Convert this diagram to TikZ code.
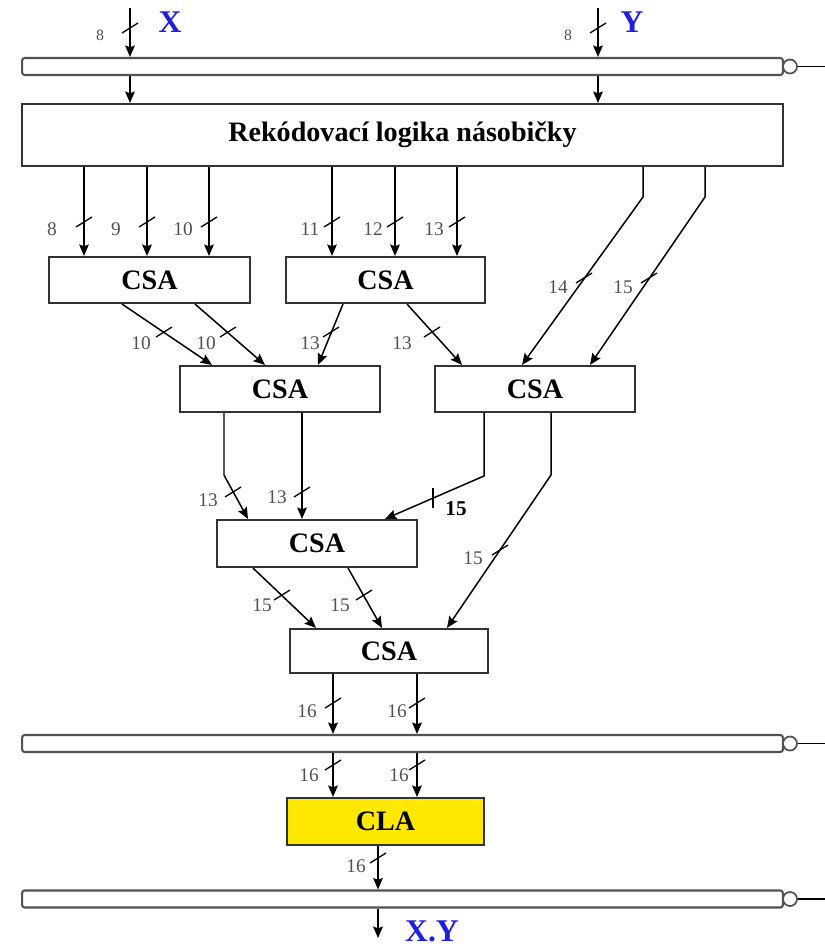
\documentclass[tikz,border=0pt]{standalone}
\usepackage{fontspec}
\setmainfont{Liberation Serif}
\usepackage{xcolor}
\usetikzlibrary{arrows.meta}

\definecolor{boxline}{HTML}{333333}
\definecolor{ioblue}{HTML}{1F1FE0}
\definecolor{lblgray}{HTML}{505050}
\definecolor{clayellow}{HTML}{FFE800}

% sirka sbernice: znacka + popisek
\newcommand{\wmark}[6]{%
  \draw[wtick] (#2,#3) ++(-8,5) -- ++(16,-10);
  \node[wlbl] (#1) at (#4,#5) {#6};
}

\begin{document}
\begin{tikzpicture}[x=0.02cm, y=-0.02cm,
  box/.style={draw=boxline, line width=1.2pt, minimum width=4cm, minimum height=0.92cm,
              font=\fontsize{16}{18}\selectfont\bfseries, fill=white, inner sep=0pt},
  reg/.style={draw=boxline!85, line width=1.2pt, rounded corners=1.5pt, minimum width=15.22cm,
              minimum height=0.34cm, inner sep=0pt, fill=white},
  bubble/.style={circle, draw=boxline!85, line width=1pt, minimum size=0.28cm, inner sep=0pt, fill=white},
  arr/.style={-{Stealth[length=6.5pt, width=5.5pt, inset=1pt]}, line width=0.85pt},
  wire/.style={line width=0.85pt},
  wtick/.style={line width=0.75pt},
  wlbl/.style={font=\fontsize{11}{12}\selectfont, text=lblgray, inner sep=0pt},
  io/.style={font=\fontsize{18}{20}\selectfont\bfseries, text=ioblue, inner sep=0pt},
]
  \useasboundingbox (0,0) rectangle (825,947);

  % Vstupy X, Y a vstupni registr
  \coordinate (xin) at (130,8);
  \coordinate (yin) at (598,8);
  \node[io] (xlab) at (170,22) {X};
  \node[io] (ylab) at (632,22) {Y};
  \node[reg] (regin) at (402.5,66.5) {};
  \node[bubble] (bin) at (790,66.5) {};
  \coordinate (clkin) at (825,66.5);
  \draw[wire] (bin.east) -- (clkin);
  \draw[arr] (xin) -- (xin |- regin.north);
  \draw[arr] (yin) -- (yin |- regin.north);
  \node[wlbl, font=\fontsize{9}{10}\selectfont] (wx) at (100,35) {8};
  \node[wlbl, font=\fontsize{9}{10}\selectfont] (wy) at (568,35) {8};
  \draw[wtick] (130,28) ++(-8,5) -- ++(16,-10);
  \draw[wtick] (598,28) ++(-8,5) -- ++(16,-10);

  % Rekodovaci logika
  \node[box, minimum width=15.22cm, minimum height=1.24cm] (rek) at (402.5,135) {Rekódovací logika násobičky};
  \draw[arr] (xin |- regin.south) -- (xin |- rek.north);
  \draw[arr] (yin |- regin.south) -- (yin |- rek.north);

  % CSA strom
  \node[box, minimum width=4.02cm] (csa1) at (149.5,280) {CSA};
  \node[box, minimum width=3.98cm] (csa2) at (385.5,280) {CSA};
  \node[box] (csa3) at (280,389) {CSA};
  \node[box] (csa4) at (535,389) {CSA};
  \node[box, minimum height=0.94cm] (csa5) at (317,543.5) {CSA};
  \node[box, minimum width=3.96cm, minimum height=0.88cm] (csa6) at (389,651) {CSA};

  \foreach \x in {84,147,209} \draw[arr] (\x,0 |- rek.south) -- (\x,0 |- csa1.north);
  \foreach \x in {332,395,457} \draw[arr] (\x,0 |- rek.south) -- (\x,0 |- csa2.north);
  \coordinate (k14) at (643,197);
  \coordinate (k15) at (705,197);
  \draw[arr] (k14 |- rek.south) -- (k14) -- (522,0 |- csa4.north);
  \draw[arr] (k15 |- rek.south) -- (k15) -- (590,0 |- csa4.north);

  \draw[arr] (122,0 |- csa1.south) -- (212,0 |- csa3.north);
  \draw[arr] (195,0 |- csa1.south) -- (265,0 |- csa3.north);
  \draw[arr] (343,0 |- csa2.south) -- (318,0 |- csa3.north);
  \draw[arr] (407,0 |- csa2.south) -- (462,0 |- csa4.north);

  \coordinate (k3) at (224,475);
  \coordinate (k4a) at (484,476);
  \coordinate (k4b) at (551,475);
  \draw[arr] (k3 |- csa3.south) -- (k3) -- (248,0 |- csa5.north);
  \draw[arr] (302,0 |- csa3.south) -- (302,0 |- csa5.north);
  \draw[arr] (k4a |- csa4.south) -- (k4a) -- (385,0 |- csa5.north);
  \draw[arr] (k4b |- csa4.south) -- (k4b) -- (447,0 |- csa6.north);

  \draw[arr] (253,0 |- csa5.south) -- (316,0 |- csa6.north);
  \draw[arr] (348,0 |- csa5.south) -- (382,0 |- csa6.north);

  % Mezivysledek, CLA a vystupni registr
  \node[reg] (regmid) at (402.5,743.5) {};
  \node[bubble] (bmid) at (790,743.5) {};
  \coordinate (clkmid) at (825,743.5);
  \draw[wire] (bmid.east) -- (clkmid);
  \node[box, fill=clayellow, minimum width=3.94cm, minimum height=0.94cm] (cla) at (385.5,821.5) {CLA};
  \node[reg] (regout) at (402.5,899) {};
  \node[bubble] (bout) at (790,899) {};
  \coordinate (clkout) at (825,899);
  \draw[wire] (bout.east) -- (clkout);

  \foreach \x in {333,417} \draw[arr] (\x,0 |- csa6.south) -- (\x,0 |- regmid.north);
  \foreach \x in {333,417} \draw[arr] (\x,0 |- regmid.south) -- (\x,0 |- cla.north);
  \draw[arr] (378,0 |- cla.south) -- (378,0 |- regout.north);
  \coordinate (xyout) at (378,938);
  \draw[arr] (378,0 |- regout.south) -- (xyout);
  \node[io, anchor=base] (xylab) at (432,941) {X.Y};

  % Sirky sbernic
  \wmark{w1}{84}{222}{52}{229}{8}
  \wmark{w2}{147}{222}{116}{229}{9}
  \wmark{w3}{209}{222}{183}{229}{10}
  \wmark{w4}{332}{222}{310}{229}{11}
  \wmark{w5}{395}{222}{373}{229}{12}
  \wmark{w6}{457}{222}{434}{229}{13}
  \wmark{w7}{584}{278}{558}{287}{14}
  \wmark{w8}{649}{278}{623}{287}{15}
  \wmark{w9}{164}{332}{141}{343}{10}
  \wmark{w10}{228}{332}{206}{343}{10}
  \wmark{w11}{331}{332}{310}{343}{13}
  \wmark{w12}{432}{332}{402}{343}{13}
  \wmark{w13}{233}{492}{208}{500}{13}
  \wmark{w14}{302}{492}{277}{497}{13}
  \wmark{w15}{500}{550}{473}{558}{15}
  \wmark{w16}{282}{595}{262}{605}{15}
  \wmark{w17}{364}{595}{340}{605}{15}
  \wmark{w18}{333}{703}{307}{711}{16}
  \wmark{w19}{417}{703}{397}{711}{16}
  \wmark{w20}{333}{765}{309}{775}{16}
  \wmark{w21}{417}{765}{399}{775}{16}
  \wmark{w22}{378}{858}{356}{866}{16}
  \draw[wtick] (433,488) -- (433,508);
  \node[inner sep=0pt, font=\fontsize{12}{13}\selectfont\bfseries] (w23) at (456,509) {15};
\end{tikzpicture}
\end{document}
